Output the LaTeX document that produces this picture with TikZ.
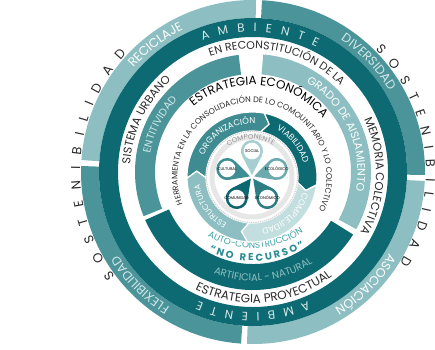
\documentclass[tikz,border=0pt]{standalone}
\usepackage{fontspec}
\setmainfont{Poppins}
\usetikzlibrary{decorations.text,calc}

\definecolor{tealdark}{HTML}{0E6A72}
\definecolor{tealmid}{HTML}{4B959A}
\definecolor{teallight}{HTML}{8DBFC2}
\definecolor{tealpale}{HTML}{C2DEDF}
\definecolor{tealorg}{HTML}{3E8C92}
\definecolor{tealtext}{HTML}{2A8C93}
\definecolor{tealauto}{HTML}{3FA3AA}
\definecolor{inkgray}{HTML}{2B2B2B}
\definecolor{softtext}{HTML}{D3E7E8}
\definecolor{ringgray}{HTML}{E6E6E6}
\definecolor{pinsocial}{HTML}{A7CED1}
\definecolor{pincult}{HTML}{3E8E94}
\definecolor{pineco}{HTML}{6CAAAE}
\definecolor{pincom}{HTML}{0C6770}
\definecolor{pinecon}{HTML}{2C7D84}

\newcommand{\txtsize}[1]{\fontsize{#1}{#1}\selectfont}
% band: colour, inner radius, outer radius, from angle, to angle
\newcommand{\ringband}[5]{\fill[#1] (#4:#2) arc[start angle=#4,end angle=#5,radius=#2] -- (#5:#3) arc[start angle=#5,end angle=#4,radius=#3] -- cycle;}
% arrow band, clockwise: colour, inner, outer, start, end
\newcommand{\chevband}[5]{\fill[#1,draw=white,line width=1.2] (#4:#3) arc[start angle=#4,end angle=#5,radius=#3] -- (#5-7:{(#2+#3)/2}) -- (#5:#2) arc[start angle=#5,end angle=#4,radius=#2] -- (#4-7:{(#2+#3)/2}) -- cycle;}
% text on arcs: baseline radius, middle angle, format, text
\newcommand{\cwtext}[4]{\path[decorate,decoration={text along path,text align=center,text={|#3|#4}}] (#2+150:#1) arc[start angle=#2+150,end angle=#2-150,radius=#1];}
\newcommand{\ccwtext}[4]{\path[decorate,decoration={text along path,text align=center,text={|#3|#4}}] (#2-150:#1) arc[start angle=#2-150,end angle=#2+150,radius=#1];}
\newcommand{\fittext}[5]{\path[decorate,decoration={text along path,text align=fit to path,text={|#4|#5}}] (#2:#1) arc[start angle=#2,end angle=#3,radius=#1];}

\tikzset{pinlabel/.style={font={\txtsize{4}},inner sep=0pt,text=black}}

\begin{document}
\begin{tikzpicture}[x=1pt,y=1pt]
\fill[white] (-253,-177) rectangle (182,172);
\useasboundingbox (-253,-177) rectangle (182,172);

% outer rings
\ringband{tealmid}{154}{172}{-1}{87}
\ringband{teallight}{154}{172}{89}{176}
\ringband{tealmid}{154}{172}{178}{266}
\ringband{teallight}{154}{172}{268}{357}
\fill[tealdark,even odd rule] (0,0) circle[radius=154] (0,0) circle[radius=135];

% middle ring
\ringband{tealmid}{98}{118}{97}{202}
\ringband{tealdark}{92}{118}{204}{328}
\ringband{teallight}{98}{118}{331}{445}

\fittext{173}{217}{137}{\txtsize{13}\color{inkgray}}{S O S T E N I B I L I D A D}
\fittext{173}{45}{-32}{\txtsize{13}\color{inkgray}}{S O S T E N I B I L I D A D}
\cwtext{158.5}{127.5}{\txtsize{12.5}\color{white}}{RECICLAJE}
\cwtext{158.5}{43.6}{\txtsize{12.5}\color{softtext}}{DIVERSIDAD}
\cwtext{158.5}{-45}{\txtsize{12.5}\color{white}}{ASOCIACIÓN}
\cwtext{158.5}{225}{\txtsize{12.5}\color{softtext}}{FLEXIBILIDAD}
\fittext{140.5}{111}{63}{\txtsize{12}\color{softtext}}{A M B I E N T E}
\fittext{140.5}{293}{247}{\txtsize{12}\color{softtext}}{A M B I E N T E}
\cwtext{123}{77.5}{\txtsize{11}\color{inkgray}}{EN RECONSTITUCIÓN DE LA}
\cwtext{123}{-2}{\txtsize{11.5}\color{inkgray}}{MEMORIA COLECTIVA}
\cwtext{123}{154}{\txtsize{11.5}\color{inkgray}}{SISTEMA URBANO}
\ccwtext{131}{275.5}{\txtsize{12}\color{inkgray}}{ESTRATEGIA PROYECTUAL}
\cwtext{104.5}{153}{\txtsize{10.5}\color{softtext}}{ENTITIVIDAD}
\cwtext{104.5}{24.4}{\txtsize{11}\color{white}}{GRADO DE AISLAMIENTO}
\ccwtext{109}{276}{\txtsize{10}\color{teallight}}{ARTIFICIAL - NATURAL}

\begin{scope}[shift={(-1,17)}]
\ccwtext{93}{272.5}{\txtsize{9}\color{tealauto}}{AUTO-CONSTRUCCIÓN}
\fittext{106}{246}{300}{\txtsize{10}\bfseries\color{tealtext}}{“NO RECURSO”}
\end{scope}

% inner part
\begin{scope}[shift={(-1,-5)}]
\chevband{tealorg}{46}{65}{181}{79}
\chevband{tealdark}{46}{65}{79}{-7}
\chevband{tealpale}{46}{65}{-7}{-94}
\chevband{teallight}{46}{65}{266}{181}
\fill[white] (0,0) circle[radius=45];
\draw[gray!35,densely dotted,line width=1.2] (0,0) circle[radius=45.5];
\draw[ringgray,line width=5] (0,0) circle[radius=40];
\cwtext{38}{92}{\txtsize{7}\color{gray!80}}{COMPONENTE}
\foreach \ang/\col/\lab/\nm in {90/pinsocial/SOCIAL/social,162/pincult/CULTURAL/cultural,18/pineco/ECOLÓGICO/ecologico,234/pincom/COMUNIDAD/comunidad,306/pinecon/ECONÓMICO/economico}{
  \fill[\col] (\ang:2) -- ($(\ang:26)+(\ang+242:11)$) arc[start angle=\ang+242,end angle=\ang+478,radius=11] -- cycle;
  \fill[white] (\ang:26) circle[radius=8.3];
  \node[pinlabel] (\nm) at (\ang:26) {\lab};
}
\cwtext{92}{84.5}{\txtsize{12}\color{black}}{ESTRATEGIA ECONÓMICA}
\cwtext{74.5}{87.5}{\txtsize{8}\color{inkgray}}{HERRAMIENTA EN LA CONSOLIDACIÓN DE LO COMOUNITARIO Y LO COLECTIVO}
\cwtext{53}{121}{\txtsize{8.5}\color{white}}{ORGANIZACIÓN}
\cwtext{53}{38.5}{\txtsize{8.5}\color{white}}{VIABILIDAD}
\cwtext{53}{-48}{\txtsize{8.5}\color{white}}{COMPLEJIDAD}
\cwtext{53}{215}{\txtsize{8}\color{white}}{ESTRUCTURA}
\end{scope}
\end{tikzpicture}
\end{document}
